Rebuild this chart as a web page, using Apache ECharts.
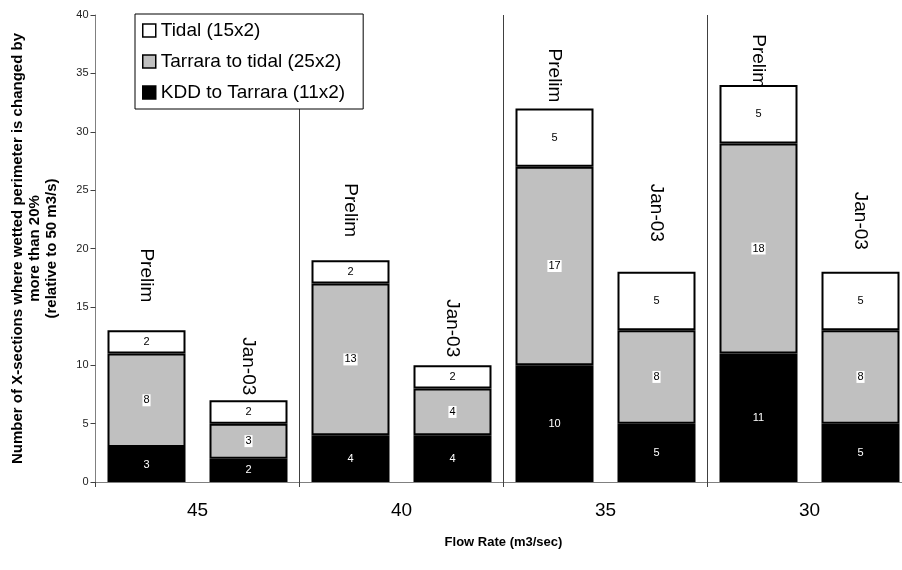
<!DOCTYPE html>
<html>
<head>
<meta charset="utf-8">
<script src="https://cdn.jsdelivr.net/npm/echarts@6/dist/echarts.min.js"></script>
<style>
html,body{margin:0;padding:0;background:#fff;}
#chart{width:902px;height:570px;}
</style>
</head>
<body>
<div id="chart"></div>
<script>
// ---- data ----
var barNames = ['Prelim', 'Jan-03', 'Prelim', 'Jan-03', 'Prelim', 'Jan-03', 'Prelim', 'Jan-03'];
var flowRates = ['45', '40', '35', '30'];
var kddToTarrara = [3, 2, 4, 4, 10, 5, 11, 5];
var tarraraToTidal = [8, 3, 13, 4, 17, 8, 18, 8];
var tidal = [2, 2, 2, 2, 5, 5, 5, 5];
var yTicks = [0, 5, 10, 15, 20, 25, 30, 35, 40];

// ---- styling (label gaps above bars, px) ----
var nameLabelGap = [28, 5, 23, 8, 6, 30, -3, 22];

var FONT = "'Liberation Sans', Arial, sans-serif";
var totals = barNames.map(function (n, i) { return kddToTarrara[i] + tarraraToTidal[i] + tidal[i]; });
var labelData = barNames.map(function (n, i) { return [i, totals[i], n]; });

var chart = echarts.init(document.getElementById('chart'), null, {renderer: 'canvas'});

function segLabel(color, bg) {
  var l = {show: true, position: 'inside', fontFamily: FONT, fontSize: 11, color: color};
  if (bg) { l.backgroundColor = bg; l.padding = [1, 1, 0, 1]; }
  return l;
}

var option = {
  animation: false,
  backgroundColor: '#ffffff',
  grid: {left: 95.5, top: 15, right: -9.5, height: 467, containLabel: false, outerBoundsMode: 'none'},
  legend: {
    orient: 'vertical', left: 135, top: 14,
    data: ['Tidal (15x2)', 'Tarrara to tidal (25x2)', 'KDD to Tarrara (11x2)'],
    icon: 'rect', itemWidth: 13, itemHeight: 13, itemGap: 12,
    padding: [7, 18, 7, 7],
    borderColor: '#000', borderWidth: 1, backgroundColor: '#fff',
    textStyle: {fontFamily: FONT, fontSize: 19, color: '#000'},
    itemStyle: {borderColor: '#000', borderWidth: 1.5}
  },
  xAxis: [
    {
      type: 'category', data: barNames, position: 'bottom',
      axisLine: {show: true, lineStyle: {color: '#808080', width: 1}},
      axisTick: {show: false}, axisLabel: {show: false}, splitLine: {show: false}
    },
    {
      type: 'category', data: flowRates, position: 'bottom',
      axisLine: {show: false},
      axisTick: {show: true, length: 5, lineStyle: {color: '#404040'}},
      axisLabel: {fontFamily: FONT, fontSize: 19, color: '#000', margin: 19},
      splitLine: {show: true, lineStyle: {color: '#404040', width: 1}},
      name: 'Flow Rate (m3/sec)', nameLocation: 'middle', nameGap: 54,
      nameTextStyle: {fontFamily: FONT, fontSize: 13, fontWeight: 'bold', color: '#000'}
    }
  ],
  yAxis: {
    type: 'value', min: 0, max: 40, interval: 5,
    axisLine: {show: true, lineStyle: {color: '#808080', width: 1}},
    axisTick: {show: true, length: 5, inside: false, lineStyle: {color: '#404040'}},
    axisLabel: {fontFamily: FONT, fontSize: 11, color: '#222', margin: 7,
      formatter: function (v) { return yTicks.indexOf(v) >= 0 ? String(v) : ''; }},
    splitLine: {show: false},
    name: 'Number of X-sections where wetted perimeter is changed by\nmore than 20%\n(relative to 50 m3/s)',
    nameLocation: 'middle', nameRotate: 90, nameGap: 35,
    nameTextStyle: {fontFamily: FONT, fontSize: 15, fontWeight: 'bold', color: '#000', lineHeight: 17, align: 'center'}
  },
  series: [
    {
      name: 'KDD to Tarrara (11x2)', type: 'bar', stack: 'a', xAxisIndex: 0,
      data: kddToTarrara, barWidth: 78,
      itemStyle: {color: '#000000', borderColor: '#000', borderWidth: 2},
      label: segLabel('#ffffff')
    },
    {
      name: 'Tarrara to tidal (25x2)', type: 'bar', stack: 'a', xAxisIndex: 0,
      data: tarraraToTidal, barWidth: 78,
      itemStyle: {color: '#c0c0c0', borderColor: '#000', borderWidth: 2},
      label: segLabel('#000000', '#ffffff')
    },
    {
      name: 'Tidal (15x2)', type: 'bar', stack: 'a', xAxisIndex: 0,
      data: tidal, barWidth: 78,
      itemStyle: {color: '#ffffff', borderColor: '#000', borderWidth: 2},
      label: segLabel('#000000')
    },
    {
      name: 'barNames', type: 'custom', xAxisIndex: 0, silent: true,
      data: labelData, z: 5,
      renderItem: function (params, api) {
        var i = api.value(0);
        var p = api.coord([i, api.value(1)]);
        return {
          type: 'text', x: p[0], y: p[1] - nameLabelGap[i], rotation: -Math.PI / 2,
          style: {text: barNames[i], fontFamily: FONT, fontSize: 19, fill: '#000',
            align: 'right', verticalAlign: 'middle'}
        };
      }
    }
  ]
};
chart.setOption(option);
</script>
</body>
</html>
